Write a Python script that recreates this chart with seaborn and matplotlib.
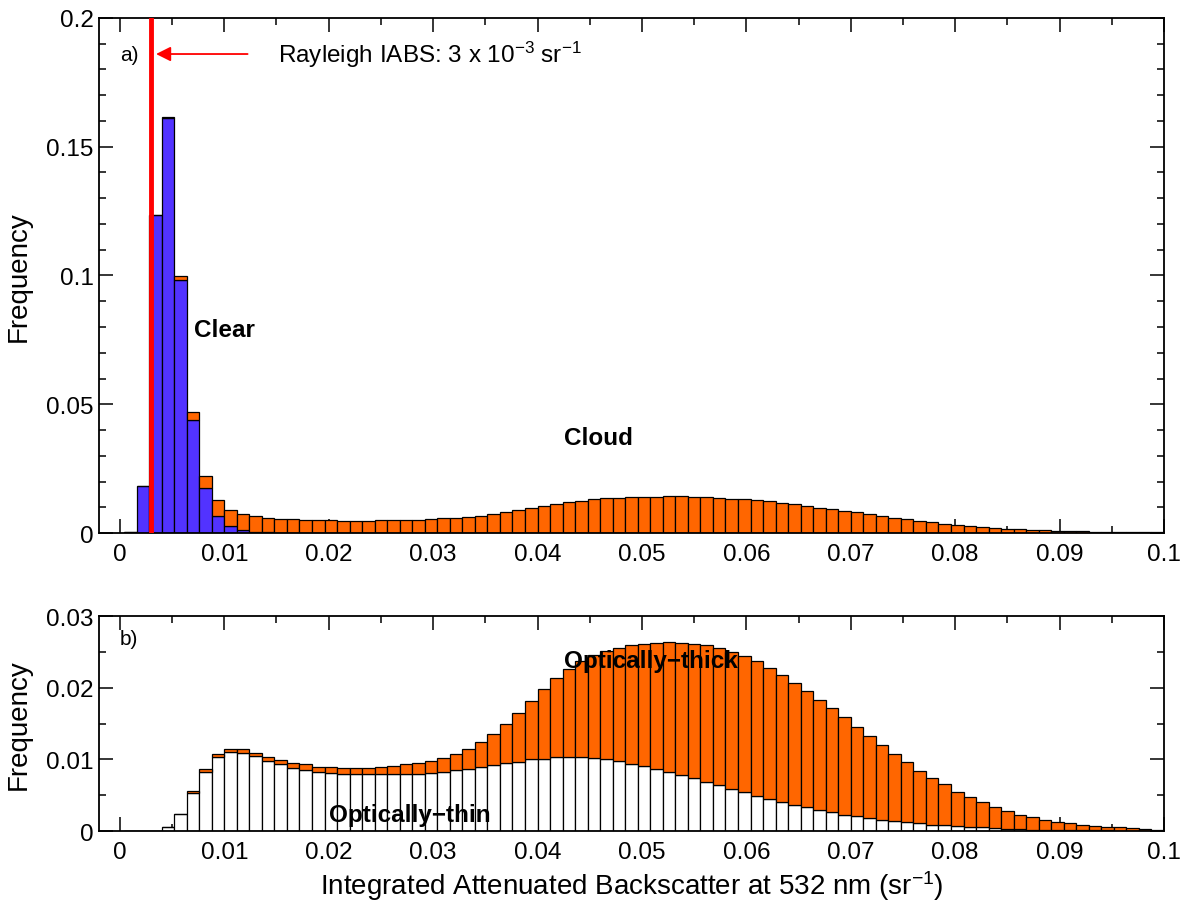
import numpy as np
import pandas as pd
import matplotlib
matplotlib.use("Agg")
import matplotlib.pyplot as plt
from matplotlib.ticker import MultipleLocator, FuncFormatter
import seaborn as sns

# histogram bin edges (83 bins)
edges = list(np.linspace(0.0004, 0.1, 84))
centers = [(a + b) / 2 for a, b in zip(edges[:-1], edges[1:])]

# panel a) frequency per bin
clear_freq = [
    0.0005, 0.0181, 0.1235, 0.1612, 0.0983, 0.0437, 0.0176, 0.0068, 0.0028, 0.0012,
    0.0005, 0.0003, 0.0002, 0.0002, 0.0001, 0.0001, 0.0001] + [0.0] * 66
cloud_freq = [
    0.0, 0.0, 0.0, 0.0005, 0.0015, 0.0032, 0.0046, 0.0059, 0.0063, 0.0060,
    0.0060, 0.0055, 0.0054, 0.0051, 0.0051, 0.0050, 0.0048,
    0.0048, 0.0048, 0.0048, 0.0049, 0.0051, 0.0051, 0.0052, 0.0054, 0.0057, 0.0060,
    0.0064, 0.0068, 0.0074, 0.0081, 0.0089, 0.0098, 0.0106, 0.0114, 0.0121, 0.0126,
    0.0131, 0.0135, 0.0137, 0.0138, 0.0140,
    0.0141, 0.0142, 0.0142, 0.0141, 0.0139, 0.0137, 0.0134, 0.0132, 0.0128, 0.0124,
    0.0117, 0.0112, 0.0106, 0.0098, 0.0092, 0.0085, 0.0080, 0.0072, 0.0066, 0.0059,
    0.0054, 0.0048, 0.0041, 0.0035, 0.0030, 0.0026, 0.0023, 0.0019, 0.0017, 0.0014,
    0.0013, 0.0010, 0.0009, 0.0008, 0.0006, 0.0005, 0.0005, 0.0004, 0.0004, 0.0003,
    0.0003]

# panel b) frequency per bin
thin_freq = [
    0.0, 0.0, 0.0, 0.0005, 0.0024, 0.0053, 0.0083, 0.0103, 0.0110, 0.0109,
    0.0104, 0.0098, 0.0093, 0.0088, 0.0085, 0.0083, 0.0081, 0.0080, 0.0079, 0.0079,
    0.0079, 0.0079, 0.0080, 0.0080, 0.0081, 0.0083, 0.0085, 0.0087, 0.0089, 0.0092,
    0.0095, 0.0097, 0.0100, 0.0101, 0.0103, 0.0103, 0.0103, 0.0102, 0.0100, 0.0098,
    0.0094, 0.0091, 0.0087, 0.0083, 0.0078, 0.0074, 0.0069, 0.0064, 0.0059, 0.0054,
    0.0049, 0.0045, 0.0040, 0.0037, 0.0033, 0.0029, 0.0027, 0.0023, 0.0021, 0.0018,
    0.0016, 0.0014, 0.0012, 0.0011, 0.0009, 0.0008, 0.0007, 0.0006, 0.0005, 0.0004,
    0.0003, 0.0003, 0.0002, 0.0002, 0.0002, 0.0001, 0.0001, 0.0001, 0.0001, 0.0,
    0.0, 0.0, 0.0]
thick_freq = [
    0.0, 0.0, 0.0, 0.0, 0.0, 0.0003, 0.0003, 0.0004, 0.0005, 0.0005,
    0.0005, 0.0005, 0.0006, 0.0007, 0.0008, 0.0007, 0.0008, 0.0008, 0.0009, 0.0009,
    0.0010, 0.0012, 0.0013, 0.0015, 0.0017, 0.0019, 0.0023, 0.0028, 0.0035, 0.0043,
    0.0054, 0.0068, 0.0081, 0.0097, 0.0110, 0.0123, 0.0134, 0.0143, 0.0151, 0.0158,
    0.0165, 0.0170, 0.0176, 0.0181, 0.0185, 0.0187, 0.0190, 0.0191, 0.0191, 0.0190,
    0.0188, 0.0183, 0.0178, 0.0169, 0.0162, 0.0154, 0.0144, 0.0136, 0.0124, 0.0115,
    0.0104, 0.0094, 0.0084, 0.0073, 0.0065, 0.0057, 0.0048, 0.0041, 0.0035, 0.0029,
    0.0025, 0.0020, 0.0017, 0.0014, 0.0011, 0.0010, 0.0007, 0.0006, 0.0005, 0.0005,
    0.0004, 0.0003, 0.0002]

rayleigh_iabs = 0.003

ORANGE = "#ff6600"
BLUE = "#5233ff"

sns.set_style("ticks")
plt.rcParams["font.family"] = ["Liberation Sans", "DejaVu Sans"]
plt.rcParams["mathtext.fontset"] = "custom"
plt.rcParams["mathtext.rm"] = "Liberation Sans"
plt.rcParams["mathtext.it"] = "Liberation Sans:italic"
plt.rcParams["mathtext.bf"] = "Liberation Sans:bold"
for key in ["text.color", "axes.labelcolor", "xtick.color", "ytick.color",
            "axes.edgecolor"]:
    plt.rcParams[key] = "black"


def long_df(a_name, a_vals, b_name, b_vals):
    return pd.DataFrame({
        "iabs": centers + centers,
        "freq": list(a_vals) + list(b_vals),
        "type": [a_name] * len(centers) + [b_name] * len(centers),
    })


def style_axis(ax, ymax, ymajor, yminor):
    ax.set_xlim(-0.002, 0.1)
    ax.set_ylim(0, ymax)
    ax.xaxis.set_major_locator(MultipleLocator(0.01))
    ax.xaxis.set_minor_locator(MultipleLocator(0.005))
    ax.yaxis.set_major_locator(MultipleLocator(ymajor))
    ax.yaxis.set_minor_locator(MultipleLocator(yminor))
    fmt = FuncFormatter(lambda v, p: f"{v:g}")
    ax.xaxis.set_major_formatter(fmt)
    ax.yaxis.set_major_formatter(fmt)
    ax.tick_params(which="both", direction="in", top=True, right=True,
                   labelsize=17.5, width=1.1)
    ax.tick_params(axis="y", pad=4)
    ax.tick_params(axis="x", pad=7)
    ax.tick_params(which="major", length=10)
    ax.tick_params(which="minor", length=5)
    for s in ax.spines.values():
        s.set_linewidth(1.3)
    ax.set_ylabel("Frequency", fontsize=20, labelpad=10)


fig = plt.figure(figsize=(11.84, 9.03), dpi=100)
ax1 = fig.add_axes([0.0836, 0.4086, 0.8995, 0.5704])
ax2 = fig.add_axes([0.0836, 0.0786, 0.8995, 0.2381])

# panel a)
df_a = long_df("Cloud", cloud_freq, "Clear", clear_freq)
sns.histplot(data=df_a, x="iabs", weights="freq", hue="type",
             hue_order=["Cloud", "Clear"], bins=edges, multiple="stack",
             palette={"Cloud": ORANGE, "Clear": BLUE}, alpha=1,
             edgecolor="black", linewidth=0.9, legend=False, ax=ax1)
style_axis(ax1, 0.2, 0.05, 0.01)
ax1.set_xlabel("")
ax1.axvline(rayleigh_iabs, color="red", lw=3.5, zorder=5)
ax1.annotate("", xy=(rayleigh_iabs + 0.0002, 0.186), xytext=(0.0125, 0.186),
             arrowprops=dict(arrowstyle="-|>", color="red", lw=1.3,
                             mutation_scale=22), zorder=6)
ax1.text(0.0151, 0.186, r"Rayleigh IABS: 3 x 10$^{-3}$ sr$^{-1}$",
         fontsize=17.5, va="center", ha="left")
ax1.text(0.0, 0.186, "a)", fontsize=15, va="center", ha="left")
ax1.text(0.0071, 0.079, "Clear", fontsize=17.5, fontweight="bold", va="center")
ax1.text(0.0458, 0.037, "Cloud", fontsize=17.5, fontweight="bold",
         va="center", ha="center")

# panel b)
df_b = long_df("Optically-thick", thick_freq, "Optically-thin", thin_freq)
sns.histplot(data=df_b, x="iabs", weights="freq", hue="type",
             hue_order=["Optically-thick", "Optically-thin"], bins=edges,
             multiple="stack",
             palette={"Optically-thick": ORANGE, "Optically-thin": "white"},
             alpha=1, edgecolor="black", linewidth=0.9, legend=False, ax=ax2)
style_axis(ax2, 0.03, 0.01, 0.005)
ax2.set_xlabel(r"Integrated Attenuated Backscatter at 532 nm (sr$^{-1}$)",
               fontsize=20, labelpad=4)
ax2.text(0.0, 0.0268, "b)", fontsize=15, va="center", ha="left")
ax2.text(0.0509, 0.0238, "Optically\u2212thick", fontsize=17.5,
         fontweight="bold", va="center", ha="center")
ax2.text(0.0278, 0.0023, "Optically\u2212thin", fontsize=17.5,
         fontweight="bold", va="center", ha="center")

fig.savefig("out.png", dpi=100)
